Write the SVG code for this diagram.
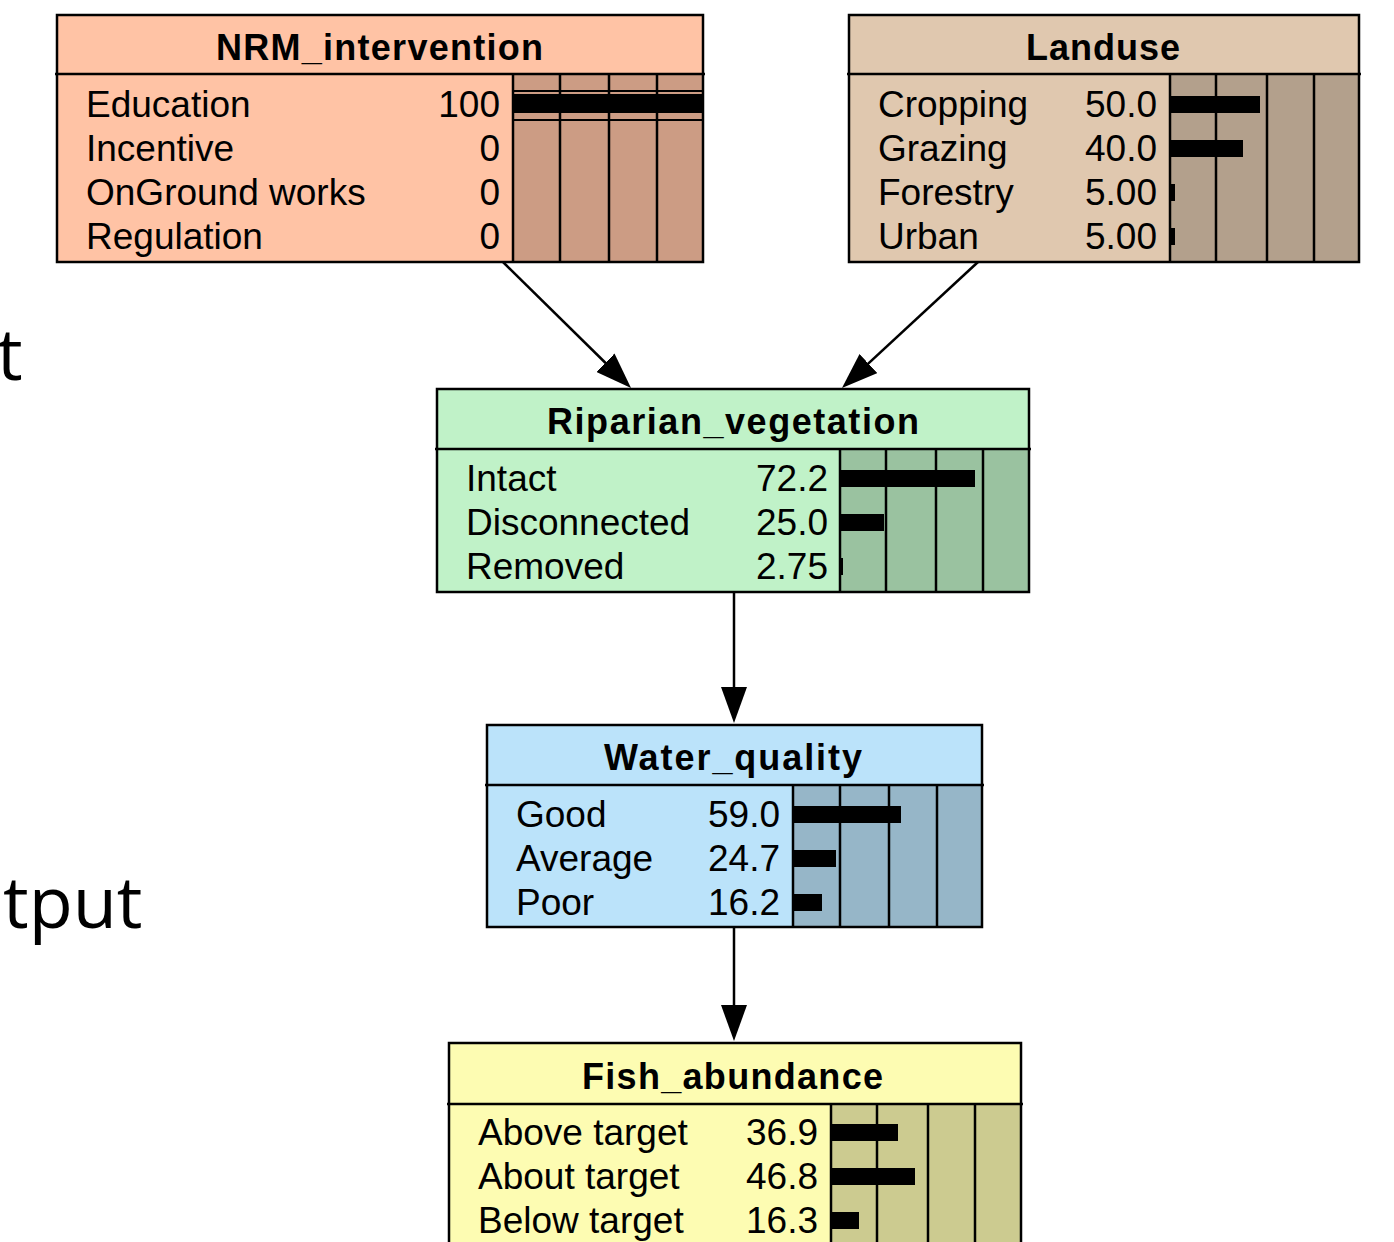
<svg xmlns="http://www.w3.org/2000/svg" width="1394" height="1242" viewBox="0 0 1394 1242">
  <style>
    .frame { fill: none; stroke: #000; stroke-width: 2.5; }
    .rule { stroke: #000; stroke-width: 2.5; }
    .thin { stroke: #000; stroke-width: 2; }
    .bar { fill: #000; }
    .lbl { font-family: "Liberation Sans", Arial, sans-serif; font-size: 37px; fill: #000; }
    .num { font-family: "Liberation Sans", Arial, sans-serif; font-size: 37px; fill: #000; text-anchor: end; }
    .ttl { font-family: "Liberation Sans", Arial, sans-serif; font-size: 36px; font-weight: bold; fill: #000; }
    .edge { fill: none; stroke: #000; stroke-width: 2.5; }
    .side { font-family: "Open Sans", "Liberation Sans", sans-serif; font-size: 72px; fill: #000; }
  </style>
  <defs>
    <marker id="head" viewBox="0 0 36 26" refX="26" refY="13" markerWidth="36" markerHeight="26" markerUnits="userSpaceOnUse" orient="auto">
      <path d="M0,0 L36,13 L0,26 Z" fill="#000"/>
    </marker>
  </defs>

  <rect width="1394" height="1242" fill="#fff"/>

  <!-- slide fragments at the left edge -->
  <text class="side" x="-3" y="380">t</text>
  <text class="side" x="3" y="928">tput</text>

  <!-- connectors -->
  <g id="edges">
    <line class="edge" x1="503" y1="262" x2="623.9" y2="381" marker-end="url(#head)"/>
    <line class="edge" x1="978" y1="262" x2="849.3" y2="381.2" marker-end="url(#head)"/>
    <line class="edge" x1="734" y1="592" x2="734" y2="713" marker-end="url(#head)"/>
    <line class="edge" x1="734" y1="927" x2="734" y2="1031" marker-end="url(#head)"/>
  </g>

  <!-- NRM_intervention -->
  <g id="NRM_intervention">
    <rect x="57" y="15" width="646" height="247" fill="#FFC3A5"/>
    <rect x="513" y="74" width="190" height="188" fill="#CC9C84"/>
    <line class="thin" x1="513" y1="91" x2="703" y2="91"/>
    <line class="thin" x1="513" y1="120" x2="703" y2="120"/>
    <rect class="bar" x="513" y="94" width="190" height="19"/>
    <line class="rule" x1="513" y1="74" x2="513" y2="262"/>
    <line class="rule" x1="560" y1="74" x2="560" y2="262"/>
    <line class="rule" x1="609" y1="74" x2="609" y2="262"/>
    <line class="rule" x1="657" y1="74" x2="657" y2="262"/>
    <line class="rule" x1="55" y1="74" x2="705" y2="74"/>
    <rect class="frame" x="57" y="15" width="646" height="247"/>
    <text class="ttl" x="216" y="60" textLength="327" lengthAdjust="spacing">NRM_intervention</text>
    <text class="lbl" x="86" y="117">Education</text>
    <text class="lbl" x="86" y="161">Incentive</text>
    <text class="lbl" x="86" y="205">OnGround works</text>
    <text class="lbl" x="86" y="249">Regulation</text>
    <text class="num" x="500" y="117">100</text>
    <text class="num" x="500" y="161">0</text>
    <text class="num" x="500" y="205">0</text>
    <text class="num" x="500" y="249">0</text>
  </g>

  <!-- Landuse -->
  <g id="Landuse">
    <rect x="849" y="15" width="510" height="247" fill="#E0C8AF"/>
    <rect x="1170" y="74" width="189" height="188" fill="#B3A08C"/>
    <rect class="bar" x="1170" y="96" width="90" height="17"/>
    <rect class="bar" x="1170" y="140" width="73" height="17"/>
    <rect class="bar" x="1170" y="184" width="5" height="17"/>
    <rect class="bar" x="1170" y="228" width="5" height="17"/>
    <line class="rule" x1="1170" y1="74" x2="1170" y2="262"/>
    <line class="rule" x1="1216" y1="74" x2="1216" y2="262"/>
    <line class="rule" x1="1267" y1="74" x2="1267" y2="262"/>
    <line class="rule" x1="1314" y1="74" x2="1314" y2="262"/>
    <line class="rule" x1="847" y1="74" x2="1361" y2="74"/>
    <rect class="frame" x="849" y="15" width="510" height="247"/>
    <text class="ttl" x="1026" y="60" textLength="154" lengthAdjust="spacing">Landuse</text>
    <text class="lbl" x="878" y="117">Cropping</text>
    <text class="lbl" x="878" y="161">Grazing</text>
    <text class="lbl" x="878" y="205">Forestry</text>
    <text class="lbl" x="878" y="249">Urban</text>
    <text class="num" x="1157" y="117">50.0</text>
    <text class="num" x="1157" y="161">40.0</text>
    <text class="num" x="1157" y="205">5.00</text>
    <text class="num" x="1157" y="249">5.00</text>
  </g>

  <!-- Riparian_vegetation -->
  <g id="Riparian_vegetation">
    <rect x="437" y="389" width="592" height="203" fill="#C0F2C8"/>
    <rect x="840" y="449" width="189" height="143" fill="#9AC2A0"/>
    <rect class="bar" x="840" y="470" width="135" height="17"/>
    <rect class="bar" x="840" y="514" width="44" height="17"/>
    <rect class="bar" x="840" y="558" width="3" height="17"/>
    <line class="rule" x1="840" y1="449" x2="840" y2="592"/>
    <line class="rule" x1="886" y1="449" x2="886" y2="592"/>
    <line class="rule" x1="936" y1="449" x2="936" y2="592"/>
    <line class="rule" x1="983" y1="449" x2="983" y2="592"/>
    <line class="rule" x1="435" y1="449" x2="1031" y2="449"/>
    <rect class="frame" x="437" y="389" width="592" height="203"/>
    <text class="ttl" x="547" y="434" textLength="372" lengthAdjust="spacing">Riparian_vegetation</text>
    <text class="lbl" x="466" y="491">Intact</text>
    <text class="lbl" x="466" y="535">Disconnected</text>
    <text class="lbl" x="466" y="579">Removed</text>
    <text class="num" x="828" y="491">72.2</text>
    <text class="num" x="828" y="535">25.0</text>
    <text class="num" x="828" y="579">2.75</text>
  </g>

  <!-- Water_quality -->
  <g id="Water_quality">
    <rect x="487" y="725" width="495" height="202" fill="#BBE3FA"/>
    <rect x="793" y="785" width="189" height="142" fill="#96B6C8"/>
    <rect class="bar" x="793" y="806" width="108" height="17"/>
    <rect class="bar" x="793" y="850" width="43" height="17"/>
    <rect class="bar" x="793" y="894" width="29" height="17"/>
    <line class="rule" x1="793" y1="785" x2="793" y2="927"/>
    <line class="rule" x1="840" y1="785" x2="840" y2="927"/>
    <line class="rule" x1="889" y1="785" x2="889" y2="927"/>
    <line class="rule" x1="937" y1="785" x2="937" y2="927"/>
    <line class="rule" x1="485" y1="785" x2="984" y2="785"/>
    <rect class="frame" x="487" y="725" width="495" height="202"/>
    <text class="ttl" x="604" y="770" textLength="258" lengthAdjust="spacing">Water_quality</text>
    <text class="lbl" x="516" y="827">Good</text>
    <text class="lbl" x="516" y="871">Average</text>
    <text class="lbl" x="516" y="915">Poor</text>
    <text class="num" x="780" y="827">59.0</text>
    <text class="num" x="780" y="871">24.7</text>
    <text class="num" x="780" y="915">16.2</text>
  </g>

  <!-- Fish_abundance -->
  <g id="Fish_abundance">
    <rect x="449" y="1043" width="572" height="227" fill="#FDFCB2"/>
    <rect x="831" y="1104" width="190" height="166" fill="#CCCB90"/>
    <rect class="bar" x="831" y="1124" width="67" height="17"/>
    <rect class="bar" x="831" y="1168" width="84" height="17"/>
    <rect class="bar" x="831" y="1212" width="28" height="17"/>
    <line class="rule" x1="831" y1="1104" x2="831" y2="1270"/>
    <line class="rule" x1="877" y1="1104" x2="877" y2="1270"/>
    <line class="rule" x1="928" y1="1104" x2="928" y2="1270"/>
    <line class="rule" x1="975" y1="1104" x2="975" y2="1270"/>
    <line class="rule" x1="447" y1="1104" x2="1023" y2="1104"/>
    <rect class="frame" x="449" y="1043" width="572" height="227"/>
    <text class="ttl" x="582" y="1089" textLength="301" lengthAdjust="spacing">Fish_abundance</text>
    <text class="lbl" x="478" y="1145">Above target</text>
    <text class="lbl" x="478" y="1189">About target</text>
    <text class="lbl" x="478" y="1233">Below target</text>
    <text class="num" x="818" y="1145">36.9</text>
    <text class="num" x="818" y="1189">46.8</text>
    <text class="num" x="818" y="1233">16.3</text>
  </g>
</svg>
